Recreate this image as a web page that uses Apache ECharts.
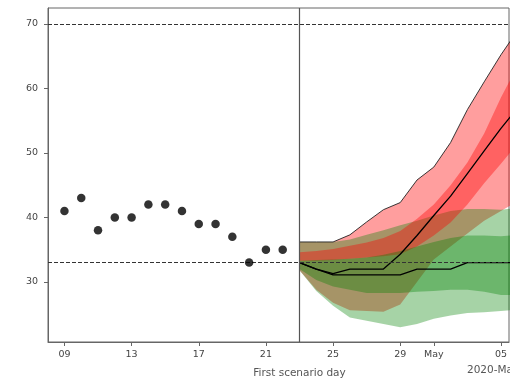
<!DOCTYPE html>
<html>
<head>
<meta charset="utf-8">
<script src="https://cdn.jsdelivr.net/npm/echarts@6/dist/echarts.min.js"></script>
<style>
  html, body { margin: 0; padding: 0; background: #fff; }
  #chart { width: 510px; height: 378px; }
</style>
</head>
<body>
<div id="chart"></div>
<script>
// Day numbers count from 1 April 2020, so 31 = 1 May
const obsDays = [9, 10, 11, 12, 13, 14, 15, 16, 17, 18, 19, 20, 21, 22];
const obsValues = [41, 43, 38, 40, 40, 42, 42, 41, 39, 39, 37, 33, 35, 35];

const scenDays = [23, 24, 25, 26, 27, 28, 29, 30, 31, 32, 33, 34, 35, 36];

// red (growth) scenario
const redMedian  = [33, 32, 31.3, 32, 32, 32, 34.3, 37.2, 40.3, 43.3, 46.8, 50.3, 53.8, 57];
const redInnerLo = [33.3, 33.3, 33.4, 33.6, 33.8, 34.0, 34.3, 35.5, 37.2, 39.2, 42, 45.3, 48.3, 51.5];
const redInnerHi = [34.6, 34.8, 35.1, 35.6, 36.1, 36.8, 37.9, 39.8, 42.0, 45.0, 48.5, 53, 58.6, 63.5];
const redOuterLo = [31.8, 28.8, 26.8, 25.6, 25.5, 25.4, 26.5, 30, 33.5, 35.5, 37.5, 39.5, 41, 42.5];
const redOuterHi = [36.2, 36.2, 36.2, 37.3, 39.3, 41.2, 42.3, 45.8, 47.8, 51.6, 56.7, 61, 65.2, 69];

// green (flat) scenario
const greenMedian  = [33, 32, 31.1, 31.1, 31.1, 31.1, 31.1, 32, 32, 32, 33, 33, 33, 33];
const greenInnerLo = [32.0, 30.3, 29.3, 28.8, 28.3, 28.3, 28.3, 28.5, 28.6, 28.8, 28.8, 28.5, 28.0, 28.0];
const greenInnerHi = [33.3, 33.4, 33.5, 33.6, 33.8, 34.2, 34.8, 35.5, 36.2, 36.8, 37.2, 37.2, 37.1, 37.3];
const greenOuterLo = [31.8, 28.6, 26.3, 24.5, 24.0, 23.5, 23.0, 23.5, 24.3, 24.8, 25.2, 25.3, 25.5, 25.7];
const greenOuterHi = [36.2, 36.2, 36.2, 36.6, 37.3, 38.0, 38.8, 39.5, 40.3, 41, 41.3, 41.3, 41.2, 41.5];

const thresholds = [70, 33];
const scenarioStart = 23;

const xTicks = [9, 13, 17, 21, 25, 29, 31, 35];
const xTickLabels = ['09', '13', '17', '21', '25', '29', 'May', '05'];
const yTicks = [30, 40, 50, 60, 70];

const FONT = 'DejaVu Sans, sans-serif';
const RED = 'rgba(255, 0, 0, 0.38)';
const GREEN = 'rgba(0, 128, 0, 0.35)';

const pairs = (ys) => scenDays.map((d, i) => [d, ys[i]]);

// one filled polygon between lo and hi, drawn through the axes
const band = (lo, hi, color) => ({
  type: 'custom', clip: true, silent: true, z: 2,
  data: scenDays.map((d, i) => [d, lo[i], hi[i]]),
  encode: { x: 0, y: [1, 2] },
  renderItem: (params, api) => {
    if (params.dataIndex !== 0) return null;
    const top = scenDays.map((d, i) => api.coord([d, hi[i]]));
    const bottom = scenDays.map((d, i) => api.coord([d, lo[i]])).reverse();
    return {
      type: 'polygon',
      shape: { points: top.concat(bottom) },
      style: { fill: color }
    };
  }
});

const line = (ys, width, color) => ({
  type: 'line', data: pairs(ys), symbol: 'none', z: 4,
  lineStyle: { color, width }, silent: true
});

const chart = echarts.init(document.getElementById('chart'));

const dashed = { type: [4, 2], color: '#333', width: 1 };

chart.setOption({
  animation: false,
  grid: {
    left: 48, right: -2, top: 8, bottom: 36,
    show: true, borderColor: '#666', borderWidth: 1
  },
  xAxis: {
    type: 'value', min: 8.02, max: 35.48,
    axisLine: { show: true, lineStyle: { color: '#666', width: 1 } },
    axisTick: { show: true, customValues: xTicks, length: 4, lineStyle: { color: '#666' } },
    axisLabel: {
      customValues: xTicks,
      formatter: (v) => xTickLabels[xTicks.indexOf(v)],
      color: '#444', fontFamily: FONT, fontSize: 9.5, margin: 8
    },
    splitLine: { show: false }
  },
  yAxis: {
    type: 'value', min: 20.7, max: 72.45,
    axisLine: { show: true, lineStyle: { color: '#666', width: 1 } },
    axisTick: { show: true, customValues: yTicks, length: 4, lineStyle: { color: '#666' } },
    axisLabel: { customValues: yTicks, color: '#444', fontFamily: FONT, fontSize: 9.5, margin: 10 },
    splitLine: { show: false }
  },
  graphic: [{
    type: 'text', left: 467, top: 365,
    style: { text: '2020-May', fill: '#555', font: '10.5px DejaVu Sans, sans-serif' }
  }],
  series: [
    band(redOuterLo, redOuterHi, RED),
    band(greenOuterLo, greenOuterHi, GREEN),
    band(redInnerLo, redInnerHi, RED),
    band(greenInnerLo, greenInnerHi, GREEN),
    line(redOuterHi, 0.9, '#222'),
    line(redMedian, 1.3, '#000'),
    line(greenMedian, 1.3, '#000'),
    {
      type: 'scatter', z: 5, data: obsDays.map((d, i) => [d, obsValues[i]]),
      symbolSize: 8.5, itemStyle: { color: '#000' },
      markLine: {
        silent: true, symbol: 'none', animation: false,
        label: { show: false },
        data: [
          ...thresholds.map((t) => ({ yAxis: t, lineStyle: dashed })),
          {
            xAxis: scenarioStart,
            lineStyle: { type: 'solid', color: '#555', width: 1.2 },
            label: {
              show: true, position: 'start', formatter: 'First scenario day',
              color: '#555', fontFamily: FONT, fontSize: 10.5, distance: 26
            }
          }
        ]
      }
    }
  ]
});
</script>
</body>
</html>
